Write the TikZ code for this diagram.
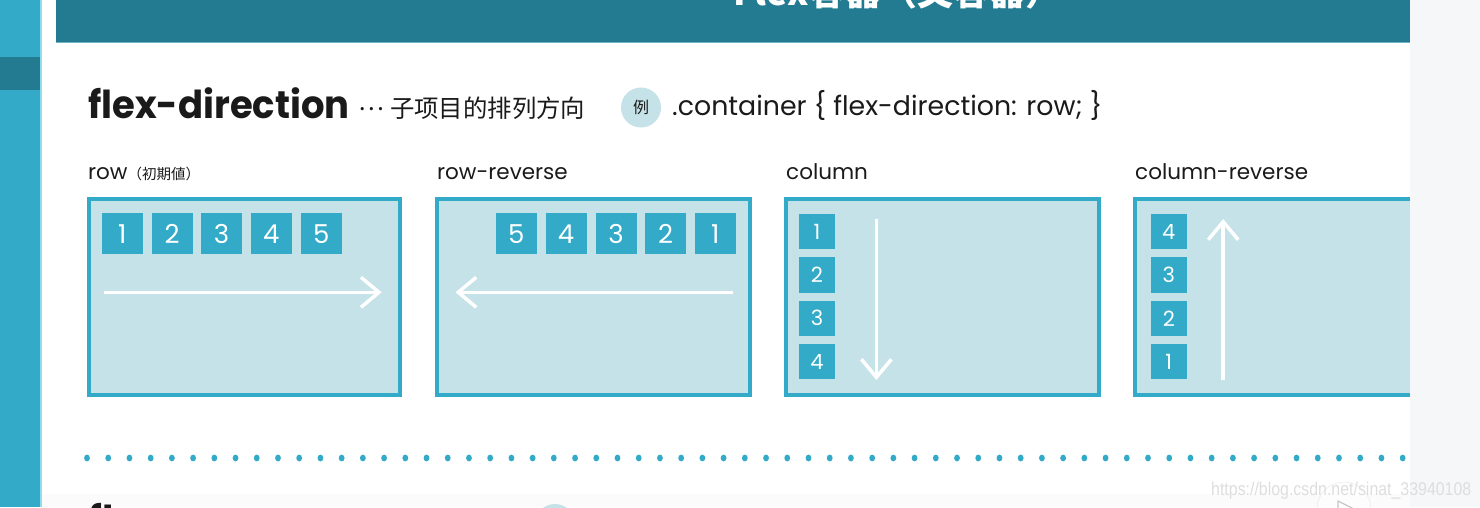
\documentclass[tikz,border=0pt]{standalone}
\usepackage{fontspec}
\usetikzlibrary{arrows.meta}
\setmainfont{Poppins}
\newfontfamily\cjk{Noto Sans CJK SC}
\newfontfamily\jp{Noto Sans CJK JP}
\newfontfamily\wm{Liberation Sans}
\definecolor{tealA}{HTML}{33AAC8}
\definecolor{tealB}{HTML}{237B92}
\definecolor{boxfill}{HTML}{C4E2E7}
\definecolor{sidegray}{HTML}{F6F7F9}
\definecolor{stripline}{HTML}{8FDDEB}
\definecolor{headline}{HTML}{6DB3C4}
\definecolor{txt}{HTML}{1A1A1A}
\tikzset{
  itembox/.style={fill=tealA, minimum size=41pt, inner sep=0pt, outer sep=0pt, text=white, font=\fontsize{26}{26}\selectfont},
  citembox/.style={fill=tealA, minimum size=35.5pt, inner sep=0pt, outer sep=0pt, text=white, font=\fontsize{21}{21}\selectfont},
  panel/.style={draw=tealA, line width=4pt, fill=boxfill, inner sep=0pt, outer sep=0pt, anchor=north west, minimum height=196pt},
  flow/.style={draw=white, line width=3.5pt, -{Straight Barb[length=18pt,width=30pt]}},
  lab/.style={anchor=base west, inner sep=0pt, text=txt, font=\fontsize{21.5}{21.5}\selectfont},
}
\begin{document}
\begin{tikzpicture}[x=1pt,y=-1pt]
\useasboundingbox (0,0) rectangle (1480,507);
\fill[white] (0,0) rectangle (1480,507);
% left strip
\fill[tealA] (0,0) rectangle (40,507);
\fill[tealB] (0,57) rectangle (40,90);
\fill[stripline] (40,0) rectangle (41.5,507);
% header
\fill[tealB] (56,0) rectangle (1410,42);
\fill[headline] (56,42) rectangle (1410,43.3);
\node[anchor=base west, inner sep=0pt, text=white, font=\cjk\bfseries\fontsize{36}{36}\selectfont] (top) at (733,5) {Flex容器（父容器）};
% title line
\node[anchor=base west, inner sep=0pt, text=txt, font=\bfseries\fontsize{38.5}{38.5}\selectfont] (title) at (88,118.5) {\scalebox{0.96}[1]{flex-direction}};
\node[anchor=base west, inner sep=0pt, text=txt, font=\cjk\fontsize{24.4}{24.4}\selectfont] (sub) at (358,117) {\raisebox{6.5pt}{…}\hspace{6pt}子项目的排列方向};
\node[circle, fill=boxfill, minimum size=40pt, inner sep=0pt, text=txt, font=\cjk\fontsize{16}{16}\selectfont] (ex) at (641,107.5) {例};
\node[anchor=base west, inner sep=0pt, text=txt, font=\fontsize{26.8}{26.8}\selectfont] (code) at (672,115.5) {.container \{ flex-direction: row; \}};
% labels
\node[lab] (l1) at (88,179) {row{\jp\fontsize{14.5}{14.5}\selectfont（初期値）}};
\node[lab] (l2) at (437,179) {row-reverse};
\node[lab] (l3) at (786,179) {column};
\node[lab] (l4) at (1135,179) {column-reverse};
% panels
\node[panel, minimum width=311.5pt] (p1) at (88.5,199) {};
\node[panel, minimum width=312.5pt] (p2) at (437,199) {};
\node[panel, minimum width=313pt] (p3) at (786,199) {};
\node[panel, minimum width=330pt] (p4) at (1135,199) {};
% row
\node[itembox] (r1) at (122.2,233.8) {1};
\node[itembox] (r2) at (172,233.8) {2};
\node[itembox] (r3) at (221.5,233.8) {3};
\node[itembox] (r4) at (271.3,233.8) {4};
\node[itembox] (r5) at (321.2,233.8) {5};
\coordinate (a1s) at (104,292.3);
\coordinate (a1e) at (381.7,292.3);
\draw[flow] (a1s) -- (a1e);
% row-reverse
\node[itembox] (q5) at (516.3,233.8) {5};
\node[itembox] (q4) at (566,233.8) {4};
\node[itembox] (q3) at (616,233.8) {3};
\node[itembox] (q2) at (665.7,233.8) {2};
\node[itembox] (q1) at (715.3,233.8) {1};
\coordinate (a2s) at (733.3,292.3);
\coordinate (a2e) at (455.5,292.3);
\draw[flow] (a2s) -- (a2e);
% column
\node[citembox] (c1) at (817,231.5) {1};
\node[citembox] (c2) at (817,274.9) {2};
\node[citembox] (c3) at (817,318.3) {3};
\node[citembox] (c4) at (817,361.7) {4};
\coordinate (a3s) at (876.4,219);
\coordinate (a3e) at (876.4,380);
\draw[flow] (a3s) -- (a3e);
% column-reverse
\node[citembox] (d4) at (1168.8,231.5) {4};
\node[citembox] (d3) at (1168.8,274.9) {3};
\node[citembox] (d2) at (1168.8,318.3) {2};
\node[citembox] (d1) at (1168.8,361.7) {1};
\coordinate (a4s) at (1223.2,380);
\coordinate (a4e) at (1223.2,219);
\draw[flow] (a4s) -- (a4e);
% dotted separator
\foreach \i in {0,...,62} {
  \fill[tealA] (87+21.22*\i,458) ellipse (2.9 and 3.4);
}
% bottom of slide
\fill[white!97!gray] (41.5,494) rectangle (1410,507);
\node[anchor=base west, inner sep=0pt, text=txt, font=\bfseries\fontsize{38.5}{38.5}\selectfont] (next) at (88,533) {fl};
\node[circle, fill=boxfill, minimum size=40pt, inner sep=0pt] (ex2) at (555,524) {};
% side area
\fill[sidegray] (1410,0) rectangle (1480,507);
% watermark and overlay
\draw[black!10, fill=white, fill opacity=0.5] (1344,509) circle (27);
\draw[black!22, line width=1.2pt, line join=round] (1338,516) -- (1338,501) -- (1356,510);
\node[anchor=base west, inner sep=0pt, text=black!13, font=\wm\fontsize{18.5}{18.5}\selectfont] (wmk) at (1211,495) {\scalebox{0.86}[1]{https://blog.csdn.net/sinat\_33940108}};
\end{tikzpicture}
\end{document}
